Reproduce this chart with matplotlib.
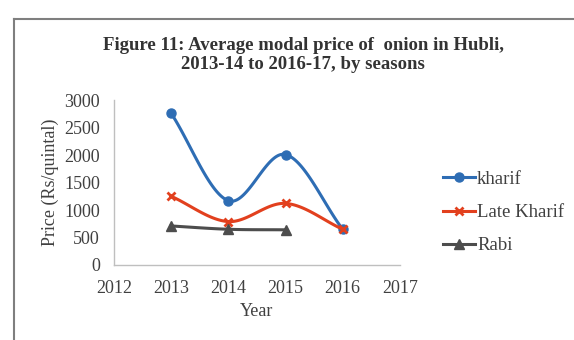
import numpy as np
import matplotlib.pyplot as plt
from matplotlib.lines import Line2D

years_kharif = [2013, 2014, 2015, 2016]
kharif = [2760, 1170, 2010, 650]

years_late = [2013, 2014, 2015, 2016]
late_kharif = [1250, 790, 1120, 650]

years_rabi = [2013, 2014, 2015]
rabi = [710, 650, 640]

xticks = [2012, 2013, 2014, 2015, 2016, 2017]
yticks = [0, 500, 1000, 1500, 2000, 2500, 3000]


def lisse(x, y, n=40):
    """Courbe lissée type tableur (Catmull-Rom passant par les points)."""
    x = np.asarray(x, float)
    y = np.asarray(y, float)
    if len(x) < 3:
        return x, y
    px = np.concatenate([[2 * x[0] - x[1]], x, [2 * x[-1] - x[-2]]])
    py = np.concatenate([[2 * y[0] - y[1]], y, [2 * y[-1] - y[-2]]])
    xs, ys = [], []
    t = np.linspace(0, 1, n)
    for i in range(1, len(px) - 2):
        p0, p1, p2, p3 = px[i - 1], px[i], px[i + 1], px[i + 2]
        q0, q1, q2, q3 = py[i - 1], py[i], py[i + 1], py[i + 2]
        # points de controle de Bezier
        c1x, c1y = p1 + (p2 - p0) / 6, q1 + (q2 - q0) / 6
        c2x, c2y = p2 - (p3 - p1) / 6, q2 - (q3 - q1) / 6
        bx = (1 - t) ** 3 * p1 + 3 * (1 - t) ** 2 * t * c1x + 3 * (1 - t) * t ** 2 * c2x + t ** 3 * p2
        by = (1 - t) ** 3 * q1 + 3 * (1 - t) ** 2 * t * c1y + 3 * (1 - t) * t ** 2 * c2y + t ** 3 * q2
        xs.extend(bx)
        ys.extend(by)
    return np.array(xs), np.array(ys)


plt.rcParams['font.family'] = ['Liberation Serif', 'DejaVu Serif']
texte = '#404040'

fig = plt.figure(figsize=(5.74, 3.40), dpi=100)
ax = fig.add_axes([0.1986, 0.2206, 0.498, 0.485])

series = [
    (years_kharif, kharif, '#2e6db4', 'o', 6.5, 'kharif'),
    (years_late, late_kharif, '#e2401e', 'x', 6, 'Late Kharif'),
    (years_rabi, rabi, '#4d4d4d', '^', 6.5, 'Rabi'),
]
handles = []
for xs, ys, c, m, ms, lab in series:
    sx, sy = lisse(xs, ys)
    ax.plot(sx, sy, color=c, lw=2.2)
    mew = 2 if m == 'x' else 1
    ax.plot(xs, ys, ls='none', marker=m, ms=ms, color=c, mew=mew)
    handles.append(Line2D([], [], color=c, lw=2.2, marker=m, ms=ms, mew=mew, label=lab))

ax.set_xlim(2012, 2017)
ax.set_ylim(0, 3000)
ax.set_xticks(xticks)
ax.set_yticks(yticks)
ax.tick_params(length=0, labelsize=13, labelcolor=texte)
ax.tick_params(axis='x', pad=11)
ax.tick_params(axis='y', pad=10)
for s in ['top', 'right']:
    ax.spines[s].set_visible(False)
for s in ['left', 'bottom']:
    ax.spines[s].set_color('#bfbfbf')
    ax.spines[s].set_linewidth(1)

ax.set_xlabel('Year', fontsize=13, color=texte, labelpad=4)
ax.set_ylabel('Price (Rs/quintal)', fontsize=13, color=texte, labelpad=4)

fig.text(0.528, 0.838, 'Figure 11: Average modal price of  onion in Hubli,\n2013-14 to 2016-17, by seasons',
         ha='center', va='center', fontsize=13.5, fontweight='bold', color='#333333', linespacing=1.15)

fig.legend(handles=handles, loc='center left', bbox_to_anchor=(0.743, 0.375), frameon=False,
           fontsize=13.5, labelcolor=texte, handlelength=1.7, handletextpad=0.1, labelspacing=0.85)

# cadre du graphique
fig.add_artist(Line2D([14 / 574, 14 / 574], [0, 1 - 19 / 340], color='#7f7f7f', lw=1.5))
fig.add_artist(Line2D([14 / 574, 1], [1 - 19 / 340, 1 - 19 / 340], color='#7f7f7f', lw=1.5))

fig.savefig('out.png', dpi=100)
